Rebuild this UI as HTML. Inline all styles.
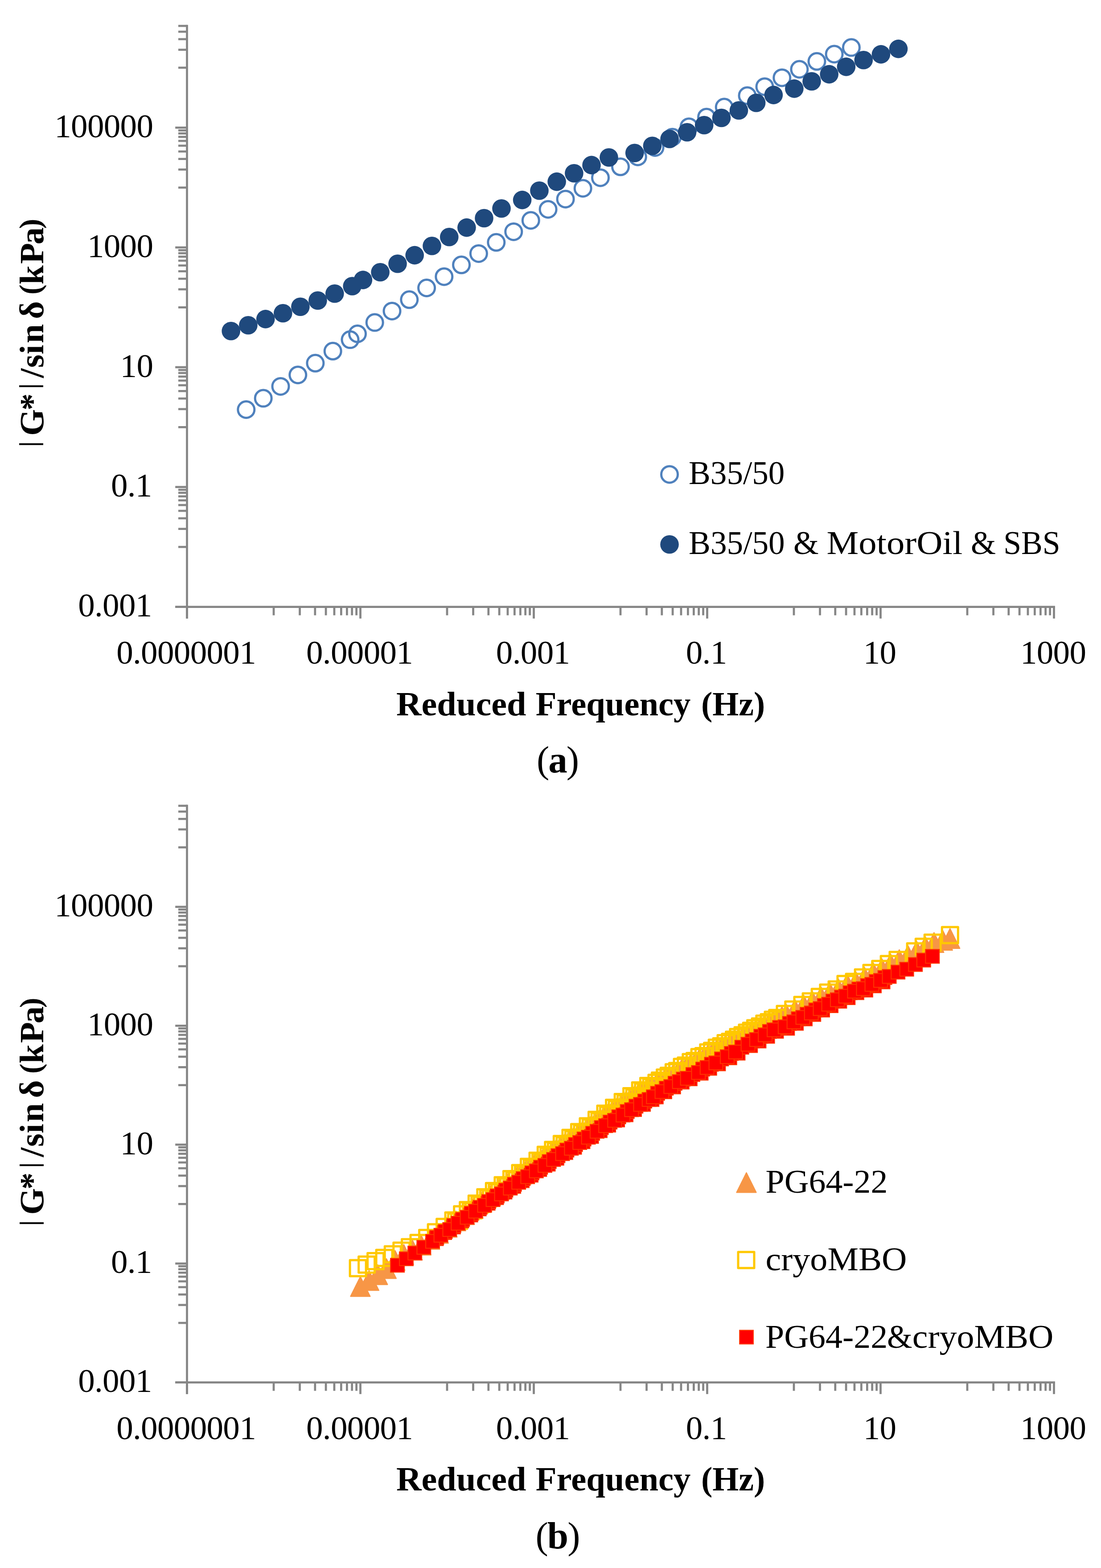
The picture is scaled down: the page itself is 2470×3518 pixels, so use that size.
<!DOCTYPE html><html><head><meta charset="utf-8"><style>html,body{margin:0;padding:0;background:#fff;overflow:hidden}svg{display:block}</style></head><body>
<svg width="2470" height="3518" viewBox="0 0 2470 3518">
<rect width="2470" height="3518" fill="#fff"/>
<path d="M400 1227.11H419.5 M400 1186.65H419.5 M400 1162.99H419.5 M400 1146.20H419.5 M400 1133.18H419.5 M400 1122.53H419.5 M400 1113.54H419.5 M400 1105.74H419.5 M400 1098.87H419.5 M400 958.33H419.5 M400 917.87H419.5 M400 894.21H419.5 M400 877.42H419.5 M400 864.40H419.5 M400 853.75H419.5 M400 844.76H419.5 M400 836.96H419.5 M400 830.09H419.5 M400 689.55H419.5 M400 649.09H419.5 M400 625.43H419.5 M400 608.64H419.5 M400 595.62H419.5 M400 584.97H419.5 M400 575.98H419.5 M400 568.18H419.5 M400 561.31H419.5 M400 420.77H419.5 M400 380.31H419.5 M400 356.65H419.5 M400 339.86H419.5 M400 326.84H419.5 M400 316.19H419.5 M400 307.20H419.5 M400 299.40H419.5 M400 292.53H419.5 M400 151.99H419.5 M400 111.53H419.5 M400 87.87H419.5 M400 71.08H419.5 M400 58.06H419.5 M393.2 1361.50H419.5 M393.2 1092.72H419.5 M393.2 823.94H419.5 M393.2 555.16H419.5 M393.2 286.38H419.5 M614.00 1361.5V1380.6 M672.55 1361.5V1380.6 M706.80 1361.5V1380.6 M731.10 1361.5V1380.6 M749.95 1361.5V1380.6 M765.35 1361.5V1380.6 M778.37 1361.5V1380.6 M789.65 1361.5V1380.6 M799.60 1361.5V1380.6 M1003.00 1361.5V1380.6 M1061.55 1361.5V1380.6 M1095.80 1361.5V1380.6 M1120.10 1361.5V1380.6 M1138.95 1361.5V1380.6 M1154.35 1361.5V1380.6 M1167.37 1361.5V1380.6 M1178.65 1361.5V1380.6 M1188.60 1361.5V1380.6 M1392.00 1361.5V1380.6 M1450.55 1361.5V1380.6 M1484.80 1361.5V1380.6 M1509.10 1361.5V1380.6 M1527.95 1361.5V1380.6 M1543.35 1361.5V1380.6 M1556.37 1361.5V1380.6 M1567.65 1361.5V1380.6 M1577.60 1361.5V1380.6 M1781.00 1361.5V1380.6 M1839.55 1361.5V1380.6 M1873.80 1361.5V1380.6 M1898.10 1361.5V1380.6 M1916.95 1361.5V1380.6 M1932.35 1361.5V1380.6 M1945.37 1361.5V1380.6 M1956.65 1361.5V1380.6 M1966.60 1361.5V1380.6 M2170.00 1361.5V1380.6 M2228.55 1361.5V1380.6 M2262.80 1361.5V1380.6 M2287.10 1361.5V1380.6 M2305.95 1361.5V1380.6 M2321.35 1361.5V1380.6 M2334.37 1361.5V1380.6 M2345.65 1361.5V1380.6 M2355.60 1361.5V1380.6 M419.50 1361.5V1387.7 M808.50 1361.5V1387.7 M1197.50 1361.5V1387.7 M1586.50 1361.5V1387.7 M1975.50 1361.5V1387.7 M2364.50 1361.5V1387.7" stroke="#868686" stroke-width="4.75" fill="none"/>
<path d="M419.5 55.66V1387.7 M393.2 1361.5H2366.90" stroke="#868686" stroke-width="4.75" fill="none"/>
<text x="343.3" y="308.08" text-anchor="end" font-size="75" letter-spacing="-0.65" font-family="'Liberation Serif', serif">100000</text>
<text x="343.3" y="576.86" text-anchor="end" font-size="75" letter-spacing="-0.65" font-family="'Liberation Serif', serif">1000</text>
<text x="343.3" y="845.64" text-anchor="end" font-size="75" letter-spacing="-0.65" font-family="'Liberation Serif', serif">10</text>
<text x="340.7" y="1114.42" text-anchor="end" font-size="75" letter-spacing="-0.65" font-family="'Liberation Serif', serif">0.1</text>
<text x="340.7" y="1383.20" text-anchor="end" font-size="75" letter-spacing="-0.65" font-family="'Liberation Serif', serif">0.001</text>
<text x="417.60" y="1488.8" text-anchor="middle" font-size="75" letter-spacing="-0.65" font-family="'Liberation Serif', serif">0.0000001</text>
<text x="806.60" y="1488.8" text-anchor="middle" font-size="75" letter-spacing="-0.65" font-family="'Liberation Serif', serif">0.00001</text>
<text x="1195.60" y="1488.8" text-anchor="middle" font-size="75" letter-spacing="-0.65" font-family="'Liberation Serif', serif">0.001</text>
<text x="1584.60" y="1488.8" text-anchor="middle" font-size="75" letter-spacing="-0.65" font-family="'Liberation Serif', serif">0.1</text>
<text x="1973.60" y="1488.8" text-anchor="middle" font-size="75" letter-spacing="-0.65" font-family="'Liberation Serif', serif">10</text>
<text x="2362.60" y="1488.8" text-anchor="middle" font-size="75" letter-spacing="-0.65" font-family="'Liberation Serif', serif">1000</text>
<text transform="translate(889.1,1604.6) scale(1.0168,1)" font-size="77" font-weight="bold" font-family="'Liberation Serif', serif">Reduced</text><text transform="translate(1201.8,1604.6) scale(0.9953,1)" font-size="77" font-weight="bold" font-family="'Liberation Serif', serif">Frequency</text><text transform="translate(1572.9,1604.6) scale(0.9871,1)" font-size="77" font-weight="bold" font-family="'Liberation Serif', serif">(Hz)</text>
<text x="1250.5" y="1733" text-anchor="middle" font-size="85" letter-spacing="-2" font-family="'Liberation Serif', serif">(<tspan font-weight="bold">a</tspan>)</text>
<text transform="translate(96.8,0) rotate(-90)" font-size="77" font-weight="bold" font-family="'Liberation Serif', serif"><tspan x="-1002.9" y="-12.7" font-size="59">|</tspan><tspan x="-977.8" y="0">G</tspan><tspan x="-921.1" y="0">*</tspan><tspan x="-873.0" y="-12.7" font-size="59">|</tspan><tspan x="-848.1" y="0">/</tspan><tspan x="-825.2" y="0">s</tspan><tspan x="-794.9" y="0">i</tspan><tspan x="-769.9" y="0">n</tspan><tspan x="-715.7" y="0">δ</tspan><tspan x="-661.1" y="-6.4" font-size="68">(</tspan><tspan x="-638.3" y="0">k</tspan><tspan x="-592.1" y="0">P</tspan><tspan x="-548.4" y="0">a</tspan><tspan x="-513.4" y="-6.4" font-size="68">)</tspan></text>
<g fill="none" stroke="#4F81BD" stroke-width="5">
<circle cx="552.3" cy="919.0" r="18.5"/>
<circle cx="590.7" cy="893.6" r="18.5"/>
<circle cx="629.5" cy="866.9" r="18.5"/>
<circle cx="668.3" cy="841.2" r="18.5"/>
<circle cx="707.4" cy="814.8" r="18.5"/>
<circle cx="746.7" cy="787.8" r="18.5"/>
<circle cx="785.5" cy="762.1" r="18.5"/>
<circle cx="802.0" cy="749.0" r="18.5"/>
<circle cx="840.7" cy="723.6" r="18.5"/>
<circle cx="879.5" cy="697.9" r="18.5"/>
<circle cx="918.3" cy="672.3" r="18.5"/>
<circle cx="957.1" cy="646.0" r="18.5"/>
<circle cx="996.3" cy="620.7" r="18.5"/>
<circle cx="1035.1" cy="594.3" r="18.5"/>
<circle cx="1073.9" cy="568.9" r="18.5"/>
<circle cx="1113.3" cy="543.8" r="18.5"/>
<circle cx="1152.3" cy="519.9" r="18.5"/>
<circle cx="1190.8" cy="494.5" r="18.5"/>
<circle cx="1229.6" cy="469.7" r="18.5"/>
<circle cx="1268.6" cy="446.7" r="18.5"/>
<circle cx="1307.7" cy="422.5" r="18.5"/>
<circle cx="1347.0" cy="398.7" r="18.5"/>
<circle cx="1392.0" cy="374.3" r="18.5"/>
<circle cx="1430.8" cy="352.0" r="18.5"/>
<circle cx="1469.6" cy="330.9" r="18.5"/>
<circle cx="1508.4" cy="307.7" r="18.5"/>
<circle cx="1545.6" cy="284.4" r="18.5"/>
<circle cx="1585.0" cy="262.7" r="18.5"/>
<circle cx="1624.7" cy="240.3" r="18.5"/>
<circle cx="1676.5" cy="214.6" r="18.5"/>
<circle cx="1715.5" cy="194.4" r="18.5"/>
<circle cx="1754.3" cy="174.4" r="18.5"/>
<circle cx="1793.4" cy="155.5" r="18.5"/>
<circle cx="1832.5" cy="137.8" r="18.5"/>
<circle cx="1871.6" cy="121.5" r="18.5"/>
<circle cx="1909.9" cy="106.6" r="18.5"/>
</g><g fill="#1F497D">
<circle cx="518.2" cy="742.8" r="20.8"/>
<circle cx="556.9" cy="729.8" r="20.8"/>
<circle cx="595.7" cy="715.9" r="20.8"/>
<circle cx="634.8" cy="702.8" r="20.8"/>
<circle cx="673.9" cy="688.3" r="20.8"/>
<circle cx="712.9" cy="674.3" r="20.8"/>
<circle cx="750.8" cy="658.8" r="20.8"/>
<circle cx="790.2" cy="642.0" r="20.8"/>
<circle cx="814.4" cy="628.1" r="20.8"/>
<circle cx="853.1" cy="610.7" r="20.8"/>
<circle cx="892.0" cy="591.8" r="20.8"/>
<circle cx="930.2" cy="572.6" r="20.8"/>
<circle cx="969.0" cy="551.8" r="20.8"/>
<circle cx="1007.8" cy="531.7" r="20.8"/>
<circle cx="1046.9" cy="510.6" r="20.8"/>
<circle cx="1086.0" cy="489.5" r="20.8"/>
<circle cx="1125.0" cy="467.8" r="20.8"/>
<circle cx="1171.6" cy="448.6" r="20.8"/>
<circle cx="1210.0" cy="427.8" r="20.8"/>
<circle cx="1249.1" cy="407.6" r="20.8"/>
<circle cx="1287.9" cy="388.7" r="20.8"/>
<circle cx="1327.0" cy="370.4" r="20.8"/>
<circle cx="1366.0" cy="353.3" r="20.8"/>
<circle cx="1423.7" cy="343.3" r="20.8"/>
<circle cx="1463.4" cy="327.2" r="20.8"/>
<circle cx="1502.1" cy="311.7" r="20.8"/>
<circle cx="1541.5" cy="296.8" r="20.8"/>
<circle cx="1579.7" cy="280.7" r="20.8"/>
<circle cx="1618.5" cy="264.5" r="20.8"/>
<circle cx="1657.5" cy="247.8" r="20.8"/>
<circle cx="1696.6" cy="230.7" r="20.8"/>
<circle cx="1735.4" cy="213.1" r="20.8"/>
<circle cx="1781.9" cy="198.9" r="20.8"/>
<circle cx="1821.0" cy="182.5" r="20.8"/>
<circle cx="1860.2" cy="166.6" r="20.8"/>
<circle cx="1898.4" cy="149.9" r="20.8"/>
<circle cx="1937.3" cy="134.8" r="20.8"/>
<circle cx="1976.4" cy="121.9" r="20.8"/>
<circle cx="2015.5" cy="109.6" r="20.8"/>
</g>
<circle cx="1502" cy="1064.4" r="18.5" fill="none" stroke="#4F81BD" stroke-width="5"/>
<circle cx="1502" cy="1221.5" r="20.8" fill="#1F497D"/>
<text transform="translate(1545.1,1086.4) scale(0.9748,1)" font-size="75" font-family="'Liberation Serif', serif">B35/50</text>
<text transform="translate(1545.1,1243) scale(0.9762,1)" font-size="75" font-family="'Liberation Serif', serif">B35/50</text><text transform="translate(1779.9,1243) scale(0.9718,1)" font-size="75" font-family="'Liberation Serif', serif">&amp;</text><text transform="translate(1854.5,1243) scale(1.0762,1)" font-size="75" font-family="'Liberation Serif', serif">MotorOil</text><text transform="translate(2178.1,1243) scale(0.9626,1)" font-size="75" font-family="'Liberation Serif', serif">&amp;</text><text transform="translate(2251.2,1243) scale(0.9541,1)" font-size="75" font-family="'Liberation Serif', serif">SBS</text>
<path d="M400 2968.12H419.5 M400 2927.98H419.5 M400 2904.49H419.5 M400 2887.83H419.5 M400 2874.90H419.5 M400 2864.34H419.5 M400 2855.41H419.5 M400 2847.68H419.5 M400 2840.85H419.5 M400 2701.38H419.5 M400 2661.23H419.5 M400 2637.74H419.5 M400 2621.08H419.5 M400 2608.15H419.5 M400 2597.59H419.5 M400 2588.66H419.5 M400 2580.93H419.5 M400 2574.10H419.5 M400 2434.62H419.5 M400 2394.48H419.5 M400 2370.99H419.5 M400 2354.33H419.5 M400 2341.40H419.5 M400 2330.84H419.5 M400 2321.91H419.5 M400 2314.18H419.5 M400 2307.35H419.5 M400 2167.88H419.5 M400 2127.73H419.5 M400 2104.24H419.5 M400 2087.58H419.5 M400 2074.65H419.5 M400 2064.09H419.5 M400 2055.16H419.5 M400 2047.43H419.5 M400 2040.60H419.5 M400 1901.12H419.5 M400 1860.98H419.5 M400 1837.49H419.5 M400 1820.83H419.5 M400 1807.90H419.5 M393.2 3101.50H419.5 M393.2 2834.75H419.5 M393.2 2568.00H419.5 M393.2 2301.25H419.5 M393.2 2034.50H419.5 M614.00 3101.5V3120.6 M672.55 3101.5V3120.6 M706.80 3101.5V3120.6 M731.10 3101.5V3120.6 M749.95 3101.5V3120.6 M765.35 3101.5V3120.6 M778.37 3101.5V3120.6 M789.65 3101.5V3120.6 M799.60 3101.5V3120.6 M1003.00 3101.5V3120.6 M1061.55 3101.5V3120.6 M1095.80 3101.5V3120.6 M1120.10 3101.5V3120.6 M1138.95 3101.5V3120.6 M1154.35 3101.5V3120.6 M1167.37 3101.5V3120.6 M1178.65 3101.5V3120.6 M1188.60 3101.5V3120.6 M1392.00 3101.5V3120.6 M1450.55 3101.5V3120.6 M1484.80 3101.5V3120.6 M1509.10 3101.5V3120.6 M1527.95 3101.5V3120.6 M1543.35 3101.5V3120.6 M1556.37 3101.5V3120.6 M1567.65 3101.5V3120.6 M1577.60 3101.5V3120.6 M1781.00 3101.5V3120.6 M1839.55 3101.5V3120.6 M1873.80 3101.5V3120.6 M1898.10 3101.5V3120.6 M1916.95 3101.5V3120.6 M1932.35 3101.5V3120.6 M1945.37 3101.5V3120.6 M1956.65 3101.5V3120.6 M1966.60 3101.5V3120.6 M2170.00 3101.5V3120.6 M2228.55 3101.5V3120.6 M2262.80 3101.5V3120.6 M2287.10 3101.5V3120.6 M2305.95 3101.5V3120.6 M2321.35 3101.5V3120.6 M2334.37 3101.5V3120.6 M2345.65 3101.5V3120.6 M2355.60 3101.5V3120.6 M419.50 3101.5V3127.7 M808.50 3101.5V3127.7 M1197.50 3101.5V3127.7 M1586.50 3101.5V3127.7 M1975.50 3101.5V3127.7 M2364.50 3101.5V3127.7" stroke="#868686" stroke-width="4.75" fill="none"/>
<path d="M419.5 1805.50V3127.7 M393.2 3101.5H2366.90" stroke="#868686" stroke-width="4.75" fill="none"/>
<text x="343.3" y="2056.20" text-anchor="end" font-size="75" letter-spacing="-0.65" font-family="'Liberation Serif', serif">100000</text>
<text x="343.3" y="2322.95" text-anchor="end" font-size="75" letter-spacing="-0.65" font-family="'Liberation Serif', serif">1000</text>
<text x="343.3" y="2589.70" text-anchor="end" font-size="75" letter-spacing="-0.65" font-family="'Liberation Serif', serif">10</text>
<text x="340.7" y="2856.45" text-anchor="end" font-size="75" letter-spacing="-0.65" font-family="'Liberation Serif', serif">0.1</text>
<text x="340.7" y="3123.20" text-anchor="end" font-size="75" letter-spacing="-0.65" font-family="'Liberation Serif', serif">0.001</text>
<text x="417.60" y="3229.3" text-anchor="middle" font-size="75" letter-spacing="-0.65" font-family="'Liberation Serif', serif">0.0000001</text>
<text x="806.60" y="3229.3" text-anchor="middle" font-size="75" letter-spacing="-0.65" font-family="'Liberation Serif', serif">0.00001</text>
<text x="1195.60" y="3229.3" text-anchor="middle" font-size="75" letter-spacing="-0.65" font-family="'Liberation Serif', serif">0.001</text>
<text x="1584.60" y="3229.3" text-anchor="middle" font-size="75" letter-spacing="-0.65" font-family="'Liberation Serif', serif">0.1</text>
<text x="1973.60" y="3229.3" text-anchor="middle" font-size="75" letter-spacing="-0.65" font-family="'Liberation Serif', serif">10</text>
<text x="2362.60" y="3229.3" text-anchor="middle" font-size="75" letter-spacing="-0.65" font-family="'Liberation Serif', serif">1000</text>
<text transform="translate(889.1,3343.6) scale(1.0168,1)" font-size="77" font-weight="bold" font-family="'Liberation Serif', serif">Reduced</text><text transform="translate(1201.8,3343.6) scale(0.9953,1)" font-size="77" font-weight="bold" font-family="'Liberation Serif', serif">Frequency</text><text transform="translate(1572.9,3343.6) scale(0.9871,1)" font-size="77" font-weight="bold" font-family="'Liberation Serif', serif">(Hz)</text>
<text x="1250.5" y="3474" text-anchor="middle" font-size="85" letter-spacing="-2" font-family="'Liberation Serif', serif">(<tspan font-weight="bold">b</tspan>)</text>
<text transform="translate(97.3,0) rotate(-90)" font-size="77" font-weight="bold" font-family="'Liberation Serif', serif"><tspan x="-2750.7" y="-12.7" font-size="59">|</tspan><tspan x="-2725.6" y="0">G</tspan><tspan x="-2668.9" y="0">*</tspan><tspan x="-2620.8" y="-12.7" font-size="59">|</tspan><tspan x="-2595.9" y="0">/</tspan><tspan x="-2573.0" y="0">s</tspan><tspan x="-2542.7" y="0">i</tspan><tspan x="-2517.7" y="0">n</tspan><tspan x="-2463.5" y="0">δ</tspan><tspan x="-2408.9" y="-6.4" font-size="68">(</tspan><tspan x="-2386.1" y="0">k</tspan><tspan x="-2339.9" y="0">P</tspan><tspan x="-2296.2" y="0">a</tspan><tspan x="-2261.2" y="-6.4" font-size="68">)</tspan></text>
<g fill="#F79646" stroke="#F79646" stroke-width="2.4" stroke-linejoin="round">
<path d="M786.5 2908.6L808.4 2864.5L830.3 2908.6Z"/>
<path d="M806.0 2895.1L827.9 2851.0L849.8 2895.1Z"/>
<path d="M825.5 2882.0L847.4 2837.9L869.3 2882.0Z"/>
<path d="M845.0 2868.4L866.9 2824.3L888.8 2868.4Z"/>
<path d="M864.5 2850.1L886.4 2806.0L908.3 2850.1Z"/>
<path d="M884.0 2836.7L905.9 2792.6L927.8 2836.7Z"/>
<path d="M903.5 2827.0L925.4 2782.9L947.3 2827.0Z"/>
<path d="M923.0 2815.7L944.9 2771.6L966.8 2815.7Z"/>
<path d="M942.5 2802.9L964.4 2758.8L986.3 2802.9Z"/>
<path d="M962.0 2789.3L983.9 2745.2L1005.8 2789.3Z"/>
<path d="M981.5 2775.5L1003.4 2731.4L1025.3 2775.5Z"/>
<path d="M1001.0 2761.3L1022.9 2717.2L1044.8 2761.3Z"/>
<path d="M1020.5 2747.3L1042.4 2703.2L1064.3 2747.3Z"/>
<path d="M1040.0 2733.0L1061.9 2688.9L1083.8 2733.0Z"/>
<path d="M1059.5 2718.6L1081.4 2674.5L1103.3 2718.6Z"/>
<path d="M1079.0 2704.5L1100.9 2660.4L1122.8 2704.5Z"/>
<path d="M1098.5 2691.2L1120.4 2647.1L1142.3 2691.2Z"/>
<path d="M1118.0 2677.6L1139.9 2633.5L1161.8 2677.6Z"/>
<path d="M1137.5 2664.1L1159.4 2620.0L1181.3 2664.1Z"/>
<path d="M1147.2 2657.3L1169.2 2613.2L1191.1 2657.3Z"/>
<path d="M1157.0 2650.4L1178.9 2606.3L1200.8 2650.4Z"/>
<path d="M1166.8 2643.4L1188.7 2599.3L1210.6 2643.4Z"/>
<path d="M1176.5 2636.4L1198.4 2592.3L1220.3 2636.4Z"/>
<path d="M1186.2 2629.5L1208.2 2585.4L1230.1 2629.5Z"/>
<path d="M1196.0 2622.5L1217.9 2578.4L1239.8 2622.5Z"/>
<path d="M1205.8 2615.6L1227.7 2571.5L1249.6 2615.6Z"/>
<path d="M1215.5 2609.0L1237.4 2564.9L1259.3 2609.0Z"/>
<path d="M1225.2 2602.4L1247.2 2558.3L1269.1 2602.4Z"/>
<path d="M1235.0 2595.8L1256.9 2551.7L1278.8 2595.8Z"/>
<path d="M1244.8 2589.0L1266.7 2544.9L1288.6 2589.0Z"/>
<path d="M1254.5 2582.1L1276.4 2538.0L1298.3 2582.1Z"/>
<path d="M1264.2 2575.4L1286.2 2531.3L1308.1 2575.4Z"/>
<path d="M1274.0 2568.9L1295.9 2524.8L1317.8 2568.9Z"/>
<path d="M1283.8 2562.4L1305.7 2518.3L1327.6 2562.4Z"/>
<path d="M1293.5 2555.9L1315.4 2511.8L1337.3 2555.9Z"/>
<path d="M1303.2 2549.0L1325.2 2504.9L1347.1 2549.0Z"/>
<path d="M1313.0 2541.8L1334.9 2497.7L1356.8 2541.8Z"/>
<path d="M1322.8 2534.8L1344.7 2490.7L1366.6 2534.8Z"/>
<path d="M1332.5 2527.9L1354.4 2483.8L1376.3 2527.9Z"/>
<path d="M1342.2 2521.2L1364.2 2477.1L1386.1 2521.2Z"/>
<path d="M1352.0 2514.6L1373.9 2470.5L1395.8 2514.6Z"/>
<path d="M1361.8 2508.1L1383.7 2464.0L1405.6 2508.1Z"/>
<path d="M1371.5 2501.6L1393.4 2457.5L1415.3 2501.6Z"/>
<path d="M1381.2 2495.1L1403.2 2451.0L1425.1 2495.1Z"/>
<path d="M1391.0 2488.6L1412.9 2444.5L1434.8 2488.6Z"/>
<path d="M1400.8 2482.1L1422.7 2438.0L1444.6 2482.1Z"/>
<path d="M1410.5 2475.6L1432.4 2431.5L1454.3 2475.6Z"/>
<path d="M1420.2 2469.8L1442.2 2425.7L1464.1 2469.8Z"/>
<path d="M1430.0 2464.4L1451.9 2420.3L1473.8 2464.4Z"/>
<path d="M1439.8 2460.2L1461.7 2416.1L1483.6 2460.2Z"/>
<path d="M1449.5 2456.5L1471.4 2412.4L1493.3 2456.5Z"/>
<path d="M1459.2 2450.5L1481.2 2406.4L1503.1 2450.5Z"/>
<path d="M1469.0 2444.5L1490.9 2400.4L1512.8 2444.5Z"/>
<path d="M1478.8 2439.8L1500.7 2395.7L1522.6 2439.8Z"/>
<path d="M1488.5 2432.8L1510.4 2388.7L1532.3 2432.8Z"/>
<path d="M1498.2 2428.6L1520.2 2384.5L1542.1 2428.6Z"/>
<path d="M1508.0 2420.2L1529.9 2376.1L1551.8 2420.2Z"/>
<path d="M1517.8 2416.5L1539.7 2372.4L1561.6 2416.5Z"/>
<path d="M1527.5 2409.6L1549.4 2365.5L1571.3 2409.6Z"/>
<path d="M1537.2 2406.3L1559.2 2362.2L1581.1 2406.3Z"/>
<path d="M1547.0 2398.3L1568.9 2354.2L1590.8 2398.3Z"/>
<path d="M1556.8 2395.5L1578.7 2351.4L1600.6 2395.5Z"/>
<path d="M1566.5 2387.9L1588.4 2343.8L1610.3 2387.9Z"/>
<path d="M1576.2 2383.7L1598.2 2339.6L1620.1 2383.7Z"/>
<path d="M1586.0 2377.1L1607.9 2333.0L1629.8 2377.1Z"/>
<path d="M1595.8 2374.0L1617.7 2329.9L1639.6 2374.0Z"/>
<path d="M1605.5 2367.1L1627.4 2323.0L1649.3 2367.1Z"/>
<path d="M1615.2 2363.9L1637.2 2319.8L1659.1 2363.9Z"/>
<path d="M1625.0 2358.8L1646.9 2314.7L1668.8 2358.8Z"/>
<path d="M1634.8 2352.7L1656.7 2308.6L1678.6 2352.7Z"/>
<path d="M1644.5 2348.6L1666.4 2304.5L1688.3 2348.6Z"/>
<path d="M1654.2 2343.1L1676.2 2299.0L1698.1 2343.1Z"/>
<path d="M1664.0 2338.5L1685.9 2294.4L1707.8 2338.5Z"/>
<path d="M1673.8 2332.7L1695.7 2288.6L1717.6 2332.7Z"/>
<path d="M1683.5 2328.6L1705.4 2284.5L1727.3 2328.6Z"/>
<path d="M1693.2 2322.2L1715.2 2278.1L1737.1 2322.2Z"/>
<path d="M1703.0 2319.0L1724.9 2274.9L1746.8 2319.0Z"/>
<path d="M1712.8 2312.7L1734.7 2268.6L1756.6 2312.7Z"/>
<path d="M1722.5 2308.4L1744.4 2264.3L1766.3 2308.4Z"/>
<path d="M1732.2 2302.9L1754.2 2258.8L1776.1 2302.9Z"/>
<path d="M1742.0 2297.5L1763.9 2253.4L1785.8 2297.5Z"/>
<path d="M1761.5 2286.8L1783.4 2242.7L1805.3 2286.8Z"/>
<path d="M1781.0 2276.6L1802.9 2232.5L1824.8 2276.6Z"/>
<path d="M1800.5 2268.1L1822.4 2224.0L1844.3 2268.1Z"/>
<path d="M1820.0 2258.4L1841.9 2214.3L1863.8 2258.4Z"/>
<path d="M1839.5 2248.9L1861.4 2204.8L1883.3 2248.9Z"/>
<path d="M1859.0 2240.7L1880.9 2196.6L1902.8 2240.7Z"/>
<path d="M1878.5 2230.0L1900.4 2185.9L1922.3 2230.0Z"/>
<path d="M1898.0 2224.1L1919.9 2180.0L1941.8 2224.1Z"/>
<path d="M1917.5 2214.3L1939.4 2170.2L1961.3 2214.3Z"/>
<path d="M1937.0 2204.2L1958.9 2160.1L1980.8 2204.2Z"/>
<path d="M1956.5 2195.1L1978.4 2151.0L2000.3 2195.1Z"/>
<path d="M1976.0 2184.4L1997.9 2140.3L2019.8 2184.4Z"/>
<path d="M1995.5 2175.1L2017.4 2131.0L2039.3 2175.1Z"/>
<path d="M2015.0 2165.6L2036.9 2121.5L2058.8 2165.6Z"/>
<path d="M2034.5 2155.9L2056.4 2111.8L2078.3 2155.9Z"/>
<path d="M2054.0 2145.6L2075.9 2101.5L2097.8 2145.6Z"/>
<path d="M2073.5 2136.7L2095.4 2092.6L2117.3 2136.7Z"/>
<path d="M2093.0 2131.7L2114.9 2087.6L2136.8 2131.7Z"/>
<path d="M2109.4 2127.7L2131.3 2083.6L2153.2 2127.7Z"/>
</g>
<g fill="none" stroke="#FFC800" stroke-width="5" stroke-linejoin="round">
<rect x="785.1" y="2827.2" width="36" height="36"/>
<rect x="804.6" y="2819.3" width="36" height="36"/>
<rect x="824.6" y="2811.5" width="36" height="36"/>
<rect x="844.1" y="2804.2" width="36" height="36"/>
<rect x="863.2" y="2796.3" width="36" height="36"/>
<rect x="882.8" y="2788.1" width="36" height="36"/>
<rect x="901.5" y="2780.3" width="36" height="36"/>
<rect x="921.0" y="2770.7" width="36" height="36"/>
<rect x="940.5" y="2759.4" width="36" height="36"/>
<rect x="960.1" y="2746.8" width="36" height="36"/>
<rect x="979.6" y="2734.7" width="36" height="36"/>
<rect x="999.1" y="2720.3" width="36" height="36"/>
<rect x="1005.6" y="2722.8" width="36" height="36"/>
<rect x="1012.1" y="2720.8" width="36" height="36"/>
<rect x="1018.7" y="2706.5" width="36" height="36"/>
<rect x="1031.7" y="2696.9" width="36" height="36"/>
<rect x="1038.2" y="2699.4" width="36" height="36"/>
<rect x="1044.7" y="2697.4" width="36" height="36"/>
<rect x="1051.3" y="2682.6" width="36" height="36"/>
<rect x="1057.8" y="2685.1" width="36" height="36"/>
<rect x="1064.3" y="2683.1" width="36" height="36"/>
<rect x="1070.8" y="2668.2" width="36" height="36"/>
<rect x="1077.3" y="2670.7" width="36" height="36"/>
<rect x="1083.8" y="2668.7" width="36" height="36"/>
<rect x="1090.3" y="2654.3" width="36" height="36"/>
<rect x="1096.8" y="2656.8" width="36" height="36"/>
<rect x="1103.3" y="2654.8" width="36" height="36"/>
<rect x="1109.9" y="2641.3" width="36" height="36"/>
<rect x="1116.4" y="2643.8" width="36" height="36"/>
<rect x="1122.9" y="2641.8" width="36" height="36"/>
<rect x="1129.4" y="2627.4" width="36" height="36"/>
<rect x="1135.9" y="2629.9" width="36" height="36"/>
<rect x="1142.4" y="2627.9" width="36" height="36"/>
<rect x="1149.0" y="2614.0" width="36" height="36"/>
<rect x="1155.5" y="2616.5" width="36" height="36"/>
<rect x="1162.0" y="2614.5" width="36" height="36"/>
<rect x="1168.5" y="2600.1" width="36" height="36"/>
<rect x="1175.0" y="2602.6" width="36" height="36"/>
<rect x="1181.5" y="2600.6" width="36" height="36"/>
<rect x="1188.0" y="2586.2" width="36" height="36"/>
<rect x="1194.5" y="2588.7" width="36" height="36"/>
<rect x="1201.0" y="2586.7" width="36" height="36"/>
<rect x="1206.3" y="2573.1" width="36" height="36"/>
<rect x="1212.8" y="2575.6" width="36" height="36"/>
<rect x="1219.3" y="2573.6" width="36" height="36"/>
<rect x="1222.8" y="2561.9" width="36" height="36"/>
<rect x="1229.3" y="2564.4" width="36" height="36"/>
<rect x="1235.8" y="2562.4" width="36" height="36"/>
<rect x="1242.3" y="2548.8" width="36" height="36"/>
<rect x="1248.8" y="2551.3" width="36" height="36"/>
<rect x="1255.3" y="2549.3" width="36" height="36"/>
<rect x="1261.9" y="2534.9" width="36" height="36"/>
<rect x="1268.4" y="2537.4" width="36" height="36"/>
<rect x="1274.9" y="2535.4" width="36" height="36"/>
<rect x="1281.4" y="2521.9" width="36" height="36"/>
<rect x="1287.9" y="2524.4" width="36" height="36"/>
<rect x="1294.4" y="2522.4" width="36" height="36"/>
<rect x="1300.9" y="2508.9" width="36" height="36"/>
<rect x="1307.4" y="2511.4" width="36" height="36"/>
<rect x="1313.9" y="2509.4" width="36" height="36"/>
<rect x="1320.5" y="2494.6" width="36" height="36"/>
<rect x="1327.0" y="2497.1" width="36" height="36"/>
<rect x="1333.5" y="2495.1" width="36" height="36"/>
<rect x="1340.0" y="2480.7" width="36" height="36"/>
<rect x="1346.5" y="2483.2" width="36" height="36"/>
<rect x="1353.0" y="2481.2" width="36" height="36"/>
<rect x="1359.6" y="2467.6" width="36" height="36"/>
<rect x="1366.1" y="2470.1" width="36" height="36"/>
<rect x="1372.6" y="2468.1" width="36" height="36"/>
<rect x="1379.1" y="2454.6" width="36" height="36"/>
<rect x="1385.6" y="2457.1" width="36" height="36"/>
<rect x="1392.1" y="2455.1" width="36" height="36"/>
<rect x="1398.6" y="2441.6" width="36" height="36"/>
<rect x="1405.1" y="2444.1" width="36" height="36"/>
<rect x="1411.6" y="2442.1" width="36" height="36"/>
<rect x="1418.2" y="2428.6" width="36" height="36"/>
<rect x="1424.7" y="2431.1" width="36" height="36"/>
<rect x="1431.2" y="2429.1" width="36" height="36"/>
<rect x="1436.5" y="2418.5" width="36" height="36"/>
<rect x="1443.0" y="2421.0" width="36" height="36"/>
<rect x="1449.5" y="2419.0" width="36" height="36"/>
<rect x="1454.9" y="2411.5" width="36" height="36"/>
<rect x="1462.4" y="2406.6" width="36" height="36"/>
<rect x="1473.5" y="2399.7" width="36" height="36"/>
<rect x="1482.2" y="2395.7" width="36" height="36"/>
<rect x="1493.4" y="2387.7" width="36" height="36"/>
<rect x="1501.4" y="2384.9" width="36" height="36"/>
<rect x="1512.0" y="2375.8" width="36" height="36"/>
<rect x="1520.7" y="2372.8" width="36" height="36"/>
<rect x="1531.8" y="2365.0" width="36" height="36"/>
<rect x="1540.5" y="2362.5" width="36" height="36"/>
<rect x="1551.1" y="2353.8" width="36" height="36"/>
<rect x="1560.4" y="2351.4" width="36" height="36"/>
<rect x="1570.9" y="2343.3" width="36" height="36"/>
<rect x="1579.6" y="2339.8" width="36" height="36"/>
<rect x="1590.1" y="2332.7" width="36" height="36"/>
<rect x="1600.1" y="2329.6" width="36" height="36"/>
<rect x="1610.0" y="2322.5" width="36" height="36"/>
<rect x="1619.9" y="2319.5" width="36" height="36"/>
<rect x="1628.6" y="2314.8" width="36" height="36"/>
<rect x="1637.9" y="2308.8" width="36" height="36"/>
<rect x="1648.0" y="2304.7" width="36" height="36"/>
<rect x="1657.9" y="2299.1" width="36" height="36"/>
<rect x="1667.2" y="2294.8" width="36" height="36"/>
<rect x="1676.5" y="2289.0" width="36" height="36"/>
<rect x="1687.1" y="2284.9" width="36" height="36"/>
<rect x="1696.8" y="2278.7" width="36" height="36"/>
<rect x="1706.9" y="2275.6" width="36" height="36"/>
<rect x="1715.9" y="2270.0" width="36" height="36"/>
<rect x="1725.8" y="2265.9" width="36" height="36"/>
<rect x="1742.9" y="2256.9" width="36" height="36"/>
<rect x="1761.8" y="2247.0" width="36" height="36"/>
<rect x="1782.0" y="2236.7" width="36" height="36"/>
<rect x="1801.0" y="2228.7" width="36" height="36"/>
<rect x="1821.1" y="2218.7" width="36" height="36"/>
<rect x="1839.9" y="2209.1" width="36" height="36"/>
<rect x="1859.0" y="2202.0" width="36" height="36"/>
<rect x="1878.9" y="2189.8" width="36" height="36"/>
<rect x="1898.0" y="2184.9" width="36" height="36"/>
<rect x="1918.1" y="2174.9" width="36" height="36"/>
<rect x="1937.0" y="2164.9" width="36" height="36"/>
<rect x="1956.8" y="2156.0" width="36" height="36"/>
<rect x="1976.1" y="2145.1" width="36" height="36"/>
<rect x="1995.9" y="2135.7" width="36" height="36"/>
<rect x="2035.1" y="2116.6" width="36" height="36"/>
<rect x="2054.3" y="2106.2" width="36" height="36"/>
<rect x="2074.2" y="2097.0" width="36" height="36"/>
<rect x="2113.3" y="2080.1" width="36" height="36"/>
</g>
<g fill="#FF0000" stroke="#FF3300" stroke-width="2.2">
<rect x="963.6" y="2763.7" width="30.8" height="30.8"/>
<rect x="982.2" y="2750.0" width="30.8" height="30.8"/>
<rect x="1001.9" y="2737.5" width="30.8" height="30.8"/>
<rect x="1020.6" y="2723.6" width="30.8" height="30.8"/>
<rect x="1040.8" y="2710.6" width="30.8" height="30.8"/>
<rect x="1059.7" y="2697.0" width="30.8" height="30.8"/>
<rect x="1079.7" y="2684.3" width="30.8" height="30.8"/>
<rect x="1098.6" y="2671.6" width="30.8" height="30.8"/>
<rect x="1117.5" y="2659.2" width="30.8" height="30.8"/>
<rect x="1137.2" y="2646.4" width="30.8" height="30.8"/>
<rect x="1156.0" y="2633.6" width="30.8" height="30.8"/>
<rect x="1176.1" y="2621.3" width="30.8" height="30.8"/>
<rect x="1195.4" y="2608.5" width="30.8" height="30.8"/>
<rect x="1214.6" y="2596.5" width="30.8" height="30.8"/>
<rect x="1233.9" y="2583.3" width="30.8" height="30.8"/>
<rect x="1253.9" y="2570.5" width="30.8" height="30.8"/>
<rect x="1273.6" y="2558.7" width="30.8" height="30.8"/>
<rect x="1292.5" y="2546.1" width="30.8" height="30.8"/>
<rect x="1311.7" y="2534.4" width="30.8" height="30.8"/>
<rect x="1331.0" y="2521.4" width="30.8" height="30.8"/>
<rect x="1350.2" y="2509.0" width="30.8" height="30.8"/>
<rect x="1370.2" y="2497.4" width="30.8" height="30.8"/>
<rect x="1389.1" y="2485.8" width="30.8" height="30.8"/>
<rect x="1408.1" y="2474.0" width="30.8" height="30.8"/>
<rect x="1428.1" y="2462.4" width="30.8" height="30.8"/>
<rect x="1447.3" y="2451.5" width="30.8" height="30.8"/>
<rect x="1456.9" y="2445.7" width="30.8" height="30.8"/>
<rect x="1476.0" y="2434.2" width="30.8" height="30.8"/>
<rect x="1495.8" y="2423.3" width="30.8" height="30.8"/>
<rect x="1514.9" y="2412.4" width="30.8" height="30.8"/>
<rect x="1532.9" y="2405.1" width="30.8" height="30.8"/>
<rect x="1557.6" y="2392.5" width="30.8" height="30.8"/>
<rect x="1576.8" y="2381.5" width="30.8" height="30.8"/>
<rect x="1596.5" y="2371.5" width="30.8" height="30.8"/>
<rect x="1621.8" y="2357.9" width="30.8" height="30.8"/>
<rect x="1640.5" y="2347.5" width="30.8" height="30.8"/>
<rect x="1668.3" y="2330.5" width="30.8" height="30.8"/>
<rect x="1687.5" y="2320.3" width="30.8" height="30.8"/>
<rect x="1706.7" y="2309.7" width="30.8" height="30.8"/>
<rect x="1726.6" y="2298.5" width="30.8" height="30.8"/>
<rect x="1751.4" y="2291.7" width="30.8" height="30.8"/>
<rect x="1771.2" y="2280.6" width="30.8" height="30.8"/>
<rect x="1791.1" y="2270.6" width="30.8" height="30.8"/>
<rect x="1810.3" y="2260.7" width="30.8" height="30.8"/>
<rect x="1830.1" y="2250.8" width="30.8" height="30.8"/>
<rect x="1849.1" y="2241.0" width="30.8" height="30.8"/>
<rect x="1868.5" y="2231.0" width="30.8" height="30.8"/>
<rect x="1887.4" y="2223.0" width="30.8" height="30.8"/>
<rect x="1907.0" y="2211.8" width="30.8" height="30.8"/>
<rect x="1927.0" y="2206.0" width="30.8" height="30.8"/>
<rect x="1946.1" y="2196.5" width="30.8" height="30.8"/>
<rect x="1965.6" y="2187.6" width="30.8" height="30.8"/>
<rect x="964.4" y="2760.9" width="30.8" height="30.8"/>
<rect x="983.6" y="2747.6" width="30.8" height="30.8"/>
<rect x="1002.9" y="2734.2" width="30.8" height="30.8"/>
<rect x="1022.4" y="2720.4" width="30.8" height="30.8"/>
<rect x="1042.1" y="2706.9" width="30.8" height="30.8"/>
<rect x="1061.6" y="2693.5" width="30.8" height="30.8"/>
<rect x="1081.1" y="2680.5" width="30.8" height="30.8"/>
<rect x="1100.1" y="2667.8" width="30.8" height="30.8"/>
<rect x="1119.5" y="2654.8" width="30.8" height="30.8"/>
<rect x="1138.8" y="2641.8" width="30.8" height="30.8"/>
<rect x="1158.3" y="2629.0" width="30.8" height="30.8"/>
<rect x="1178.1" y="2616.2" width="30.8" height="30.8"/>
<rect x="1197.4" y="2603.5" width="30.8" height="30.8"/>
<rect x="1216.8" y="2590.7" width="30.8" height="30.8"/>
<rect x="1236.5" y="2577.5" width="30.8" height="30.8"/>
<rect x="1256.5" y="2564.9" width="30.8" height="30.8"/>
<rect x="1275.8" y="2552.5" width="30.8" height="30.8"/>
<rect x="1294.9" y="2540.0" width="30.8" height="30.8"/>
<rect x="1314.3" y="2527.4" width="30.8" height="30.8"/>
<rect x="1333.7" y="2514.5" width="30.8" height="30.8"/>
<rect x="1353.3" y="2502.2" width="30.8" height="30.8"/>
<rect x="1372.8" y="2490.3" width="30.8" height="30.8"/>
<rect x="1391.8" y="2478.4" width="30.8" height="30.8"/>
<rect x="1411.4" y="2466.5" width="30.8" height="30.8"/>
<rect x="1431.2" y="2455.0" width="30.8" height="30.8"/>
<rect x="1460.0" y="2437.6" width="30.8" height="30.8"/>
<rect x="1479.5" y="2426.1" width="30.8" height="30.8"/>
<rect x="1499.1" y="2415.0" width="30.8" height="30.8"/>
<rect x="1517.7" y="2405.7" width="30.8" height="30.8"/>
<rect x="1539.1" y="2395.4" width="30.8" height="30.8"/>
<rect x="1561.2" y="2383.3" width="30.8" height="30.8"/>
<rect x="1580.7" y="2372.5" width="30.8" height="30.8"/>
<rect x="1603.3" y="2360.5" width="30.8" height="30.8"/>
<rect x="1625.4" y="2348.2" width="30.8" height="30.8"/>
<rect x="1648.8" y="2334.2" width="30.8" height="30.8"/>
<rect x="1672.3" y="2320.2" width="30.8" height="30.8"/>
<rect x="1691.6" y="2309.7" width="30.8" height="30.8"/>
<rect x="1711.1" y="2298.8" width="30.8" height="30.8"/>
<rect x="1733.5" y="2289.8" width="30.8" height="30.8"/>
<rect x="1755.8" y="2280.8" width="30.8" height="30.8"/>
<rect x="1775.6" y="2270.3" width="30.8" height="30.8"/>
<rect x="1795.2" y="2260.3" width="30.8" height="30.8"/>
<rect x="1814.7" y="2250.5" width="30.8" height="30.8"/>
<rect x="1834.1" y="2240.6" width="30.8" height="30.8"/>
<rect x="1853.3" y="2230.7" width="30.8" height="30.8"/>
<rect x="1872.4" y="2221.7" width="30.8" height="30.8"/>
<rect x="1891.7" y="2212.1" width="30.8" height="30.8"/>
<rect x="1911.5" y="2203.6" width="30.8" height="30.8"/>
<rect x="1931.0" y="2195.9" width="30.8" height="30.8"/>
<rect x="1950.3" y="2186.7" width="30.8" height="30.8"/>
<rect x="1969.8" y="2177.8" width="30.8" height="30.8"/>
<rect x="876.2" y="2823.4" width="30.8" height="30.8"/>
<rect x="896.1" y="2808.8" width="30.8" height="30.8"/>
<rect x="915.3" y="2796.0" width="30.8" height="30.8"/>
<rect x="935.4" y="2783.1" width="30.8" height="30.8"/>
<rect x="955.1" y="2769.8" width="30.8" height="30.8"/>
<rect x="973.7" y="2756.0" width="30.8" height="30.8"/>
<rect x="993.5" y="2743.2" width="30.8" height="30.8"/>
<rect x="1012.3" y="2729.1" width="30.8" height="30.8"/>
<rect x="1032.6" y="2715.8" width="30.8" height="30.8"/>
<rect x="1051.6" y="2702.0" width="30.8" height="30.8"/>
<rect x="1071.6" y="2689.0" width="30.8" height="30.8"/>
<rect x="1090.6" y="2676.1" width="30.8" height="30.8"/>
<rect x="1109.6" y="2663.4" width="30.8" height="30.8"/>
<rect x="1129.4" y="2650.3" width="30.8" height="30.8"/>
<rect x="1148.3" y="2637.3" width="30.8" height="30.8"/>
<rect x="1168.4" y="2624.7" width="30.8" height="30.8"/>
<rect x="1187.8" y="2611.7" width="30.8" height="30.8"/>
<rect x="1207.1" y="2599.4" width="30.8" height="30.8"/>
<rect x="1226.5" y="2586.0" width="30.8" height="30.8"/>
<rect x="1246.6" y="2572.9" width="30.8" height="30.8"/>
<rect x="1266.4" y="2560.9" width="30.8" height="30.8"/>
<rect x="1285.3" y="2548.0" width="30.8" height="30.8"/>
<rect x="1304.6" y="2536.1" width="30.8" height="30.8"/>
<rect x="1324.0" y="2522.8" width="30.8" height="30.8"/>
<rect x="1343.3" y="2510.2" width="30.8" height="30.8"/>
<rect x="1363.4" y="2498.3" width="30.8" height="30.8"/>
<rect x="1382.3" y="2486.4" width="30.8" height="30.8"/>
<rect x="1401.4" y="2474.4" width="30.8" height="30.8"/>
<rect x="1421.5" y="2462.5" width="30.8" height="30.8"/>
<rect x="1440.8" y="2451.4" width="30.8" height="30.8"/>
<rect x="1450.4" y="2445.5" width="30.8" height="30.8"/>
<rect x="1469.6" y="2433.7" width="30.8" height="30.8"/>
<rect x="1489.5" y="2422.5" width="30.8" height="30.8"/>
<rect x="1508.7" y="2411.4" width="30.8" height="30.8"/>
<rect x="1526.7" y="2403.9" width="30.8" height="30.8"/>
<rect x="1551.5" y="2390.9" width="30.8" height="30.8"/>
<rect x="1570.8" y="2379.7" width="30.8" height="30.8"/>
<rect x="1590.6" y="2369.4" width="30.8" height="30.8"/>
<rect x="1616.0" y="2355.5" width="30.8" height="30.8"/>
<rect x="1634.8" y="2344.9" width="30.8" height="30.8"/>
<rect x="1662.7" y="2327.5" width="30.8" height="30.8"/>
<rect x="1682.0" y="2317.0" width="30.8" height="30.8"/>
<rect x="1701.2" y="2306.4" width="30.8" height="30.8"/>
<rect x="1721.1" y="2295.2" width="30.8" height="30.8"/>
<rect x="1745.9" y="2288.4" width="30.8" height="30.8"/>
<rect x="1765.7" y="2277.3" width="30.8" height="30.8"/>
<rect x="1785.6" y="2267.3" width="30.8" height="30.8"/>
<rect x="1804.8" y="2257.4" width="30.8" height="30.8"/>
<rect x="1824.6" y="2247.5" width="30.8" height="30.8"/>
<rect x="1843.6" y="2237.7" width="30.8" height="30.8"/>
<rect x="1863.0" y="2227.7" width="30.8" height="30.8"/>
<rect x="1881.9" y="2219.7" width="30.8" height="30.8"/>
<rect x="1901.5" y="2208.5" width="30.8" height="30.8"/>
<rect x="1921.5" y="2202.7" width="30.8" height="30.8"/>
<rect x="1940.6" y="2193.2" width="30.8" height="30.8"/>
<rect x="1960.1" y="2184.3" width="30.8" height="30.8"/>
<rect x="1979.6" y="2175.4" width="30.8" height="30.8"/>
<rect x="1999.2" y="2165.7" width="30.8" height="30.8"/>
<rect x="2018.7" y="2159.2" width="30.8" height="30.8"/>
<rect x="2038.3" y="2148.6" width="30.8" height="30.8"/>
<rect x="2056.9" y="2138.7" width="30.8" height="30.8"/>
<rect x="2076.4" y="2130.3" width="30.8" height="30.8"/>
</g>
<path d="M1652.6 2675.4L1674.5 2631.3L1696.4 2675.4Z" fill="#F79646" stroke="#F79646" stroke-width="2.4" stroke-linejoin="round"/>
<rect x="1656" y="2809.1" width="36" height="36" fill="none" stroke="#FFC800" stroke-width="5" stroke-linejoin="round"/>
<rect x="1659.3" y="2984.7" width="30.6" height="30.6" fill="#FF0000" stroke="#FF3300" stroke-width="2.2"/>
<text transform="translate(1717.6,2675.8) scale(1.0111,1)" font-size="75" font-family="'Liberation Serif', serif">PG64-22</text>
<text transform="translate(1717.6,2849.5) scale(1.0419,1)" font-size="75" font-family="'Liberation Serif', serif">cryoMBO</text>
<text transform="translate(1717.0,3023.7) scale(1.0127,1)" font-size="75" font-family="'Liberation Serif', serif">PG64-22</text><text transform="translate(1989.9,3023.7) scale(0.9700,1)" font-size="75" font-family="'Liberation Serif', serif">&amp;</text><text transform="translate(2046.8,3023.7) scale(1.0412,1)" font-size="75" font-family="'Liberation Serif', serif">cryoMBO</text>
</svg></body></html>
